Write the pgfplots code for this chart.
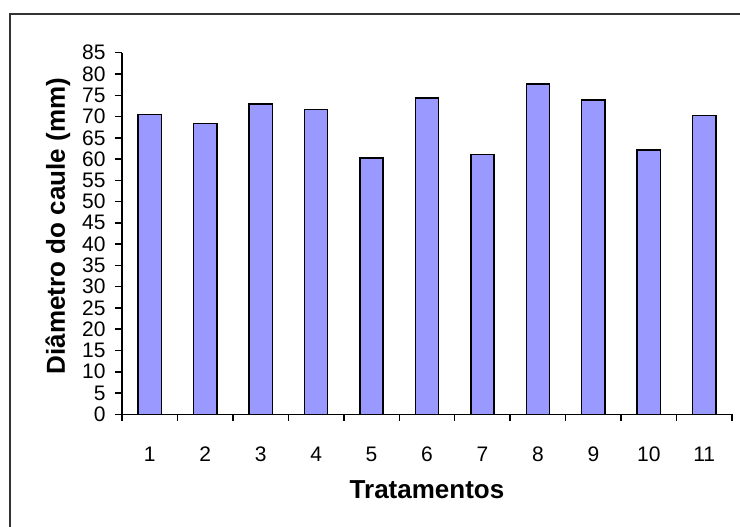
\documentclass[border=0pt]{standalone}
\usepackage{pgfplots}
\pgfplotsset{compat=1.18}
\usepackage{fontspec}
\setmainfont{Liberation Sans}
\definecolor{barfill}{HTML}{9999FF}
\definecolor{chartframe}{HTML}{333333}

\begin{document}
\begin{tikzpicture}
% page area and the chart frame (its right and bottom sides run off the page)
\path[use as bounding box] (0,0) rectangle (370pt,263pt);
\draw[chartframe, line width=1pt] (5pt,256pt) rectangle (400pt,-20pt);
\begin{axis}[
  at={(61pt,55.85pt)}, anchor=south west,
  scale only axis, width=305pt, height=180.8pt,
  xmin=0.5, xmax=11.5, ymin=0, ymax=85,
  enlargelimits=false,
  axis x line*=bottom, axis y line*=left,
  axis line style={-, line width=0.75pt, black},
  xtick={1,...,11},
  minor xtick={0.5,1.5,...,11.5},
  ytick={0,5,...,85},
  tick align=outside,
  major tick length=3.5pt, minor tick length=3.2pt,
  major x tick style={draw=none},
  ytick style={line width=0.75pt, black},
  minor x tick style={draw=black, line width=0.75pt},
  tick label style={font=\fontsize{10.5}{12}\selectfont},
  /pgf/number format/assume math mode=true,
  yticklabel style={anchor=east, inner sep=0pt, xshift=-4.5pt},
  xticklabel style={anchor=center, inner sep=0pt, yshift=-16.4pt},
  xlabel={Tratamentos},
  ylabel={Diâmetro do caule (mm)},
  label style={font=\fontsize{13}{15}\bfseries\selectfont},
  xlabel style={at={(axis description cs:0.5,-0.2093)}, anchor=center},
  ylabel style={at={(axis description cs:-0.105,0.5207)}, anchor=center, rotate=0},
  ybar, bar width=0.42,
]
\addplot[fill=barfill, draw=black, line width=0.75pt]
  coordinates {(1,70.5) (2,68.4) (3,73.0) (4,71.6) (5,60.2) (6,74.3)
               (7,61.1) (8,77.6) (9,73.9) (10,62.1) (11,70.2)};
\end{axis}
\end{tikzpicture}
\end{document}
